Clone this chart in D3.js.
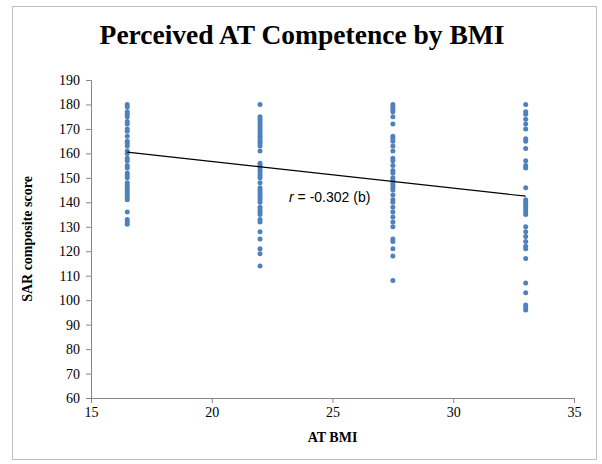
<!DOCTYPE html>
<html><head><meta charset="utf-8">
<script src="https://cdn.jsdelivr.net/npm/d3@7"></script>
<style>body{margin:0;background:#fff}svg{display:block}.ax text{font-family:'Liberation Serif','Times New Roman',serif !important;font-size:14px}</style>
</head><body>
<script>
// ---- data ----
const bmiGroups = [16.5, 22, 27.5, 33];
const scores165 = [180,179,177,176,175,173,172,170,169,167,165,164,163,161,160,158,157,155,154,152,151,150,148,147,146,145,144,143,142,141,136,133,132,131];
const scores22 = [180,175,174,173,172,171,170,169,168,167,166,165,164,163,161,156,155,154,153,152,151,150,148,146,145,144,143,142,141,140,138,137,136,135,133,132,128,125,121,119,114];
const scores275 = [180,179,178,177,175,172,167,166,165,163,161,158,157,155,153,152,150,149,148,147,146,145,143,141,140,138,136,134,132,130,125,124,121,118,108];
const scores33 = [180,177,176,174,172,170,166,165,162,157,155,154,146,141,140,139,138,137,136,135,130,128,126,124,122,121,117,107,103,98,97,96];
const trendX = [16.5, 33];
const trendY = [160.5, 142.5];
const xTicks = [15, 20, 25, 30, 35];
const yTicks = [60,70,80,90,100,110,120,130,140,150,160,170,180,190];

const W = 602, H = 464;
const svg = d3.select("body").append("svg").attr("width", W).attr("height", H);
svg.append("rect").attr("x", 12.5).attr("y", 6.5).attr("width", 584).attr("height", 453)
  .attr("fill", "#fff").attr("stroke", "#bfbfbf");

const x = d3.scaleLinear().domain([15, 35]).range([91, 574]);
const y = d3.scaleLinear().domain([60, 190]).range([398, 80]);

const serif = "'Liberation Serif','Times New Roman',serif";

// axes
const gx = svg.append("g").attr("class", "ax").attr("transform", `translate(0,${y(60)})`)
  .call(d3.axisBottom(x).tickValues(xTicks).tickSize(5).tickPadding(4));
const gy = svg.append("g").attr("class", "ax").attr("transform", `translate(${x(15)},0)`)
  .call(d3.axisLeft(y).tickValues(yTicks).tickSize(5).tickPadding(6));
[gx, gy].forEach(g => {
  g.attr("font-family", serif).attr("font-size", 14);
  g.selectAll("path,line").attr("stroke", "#868686");
  g.selectAll("text").style("font-family", serif).style("font-size", "14px").attr("fill", "#000");
});

// points
const series = [scores165, scores22, scores275, scores33];
const pts = [];
series.forEach((arr, i) => arr.forEach(v => pts.push({bmi: bmiGroups[i], v})));
svg.append("g").selectAll("circle").data(pts).join("circle")
  .attr("cx", d => x(d.bmi)).attr("cy", d => y(d.v)).attr("r", 2.5)
  .attr("fill", "#4f81bd");

// trend line
svg.append("line")
  .attr("x1", x(trendX[0])).attr("y1", y(trendY[0]))
  .attr("x2", x(trendX[1])).attr("y2", y(trendY[1]))
  .attr("stroke", "#000").attr("stroke-width", 1.2);

// r label
const rt = svg.append("text").attr("x", 289).attr("y", 202)
  .attr("font-family", "'Liberation Sans',Arial,sans-serif").attr("font-size", 14).attr("fill", "#000");
rt.append("tspan").attr("font-style", "italic").text("r");
rt.append("tspan").text(" = -0.302 (b)");

// titles
svg.append("text").attr("x", 302).attr("y", 44).attr("text-anchor", "middle")
  .attr("font-family", serif).attr("font-weight", "bold").attr("font-size", 27.5)
  .text("Perceived AT Competence by BMI");
svg.append("text").attr("x", (x(15) + x(35)) / 2).attr("y", 442).attr("text-anchor", "middle")
  .attr("font-family", serif).attr("font-weight", "bold").attr("font-size", 14)
  .text("AT BMI");
svg.append("text").attr("transform", `translate(32,${(y(60) + y(190)) / 2}) rotate(-90)`)
  .attr("text-anchor", "middle")
  .attr("font-family", serif).attr("font-weight", "bold").attr("font-size", 14)
  .text("SAR composite score");
</script>
</body></html>
